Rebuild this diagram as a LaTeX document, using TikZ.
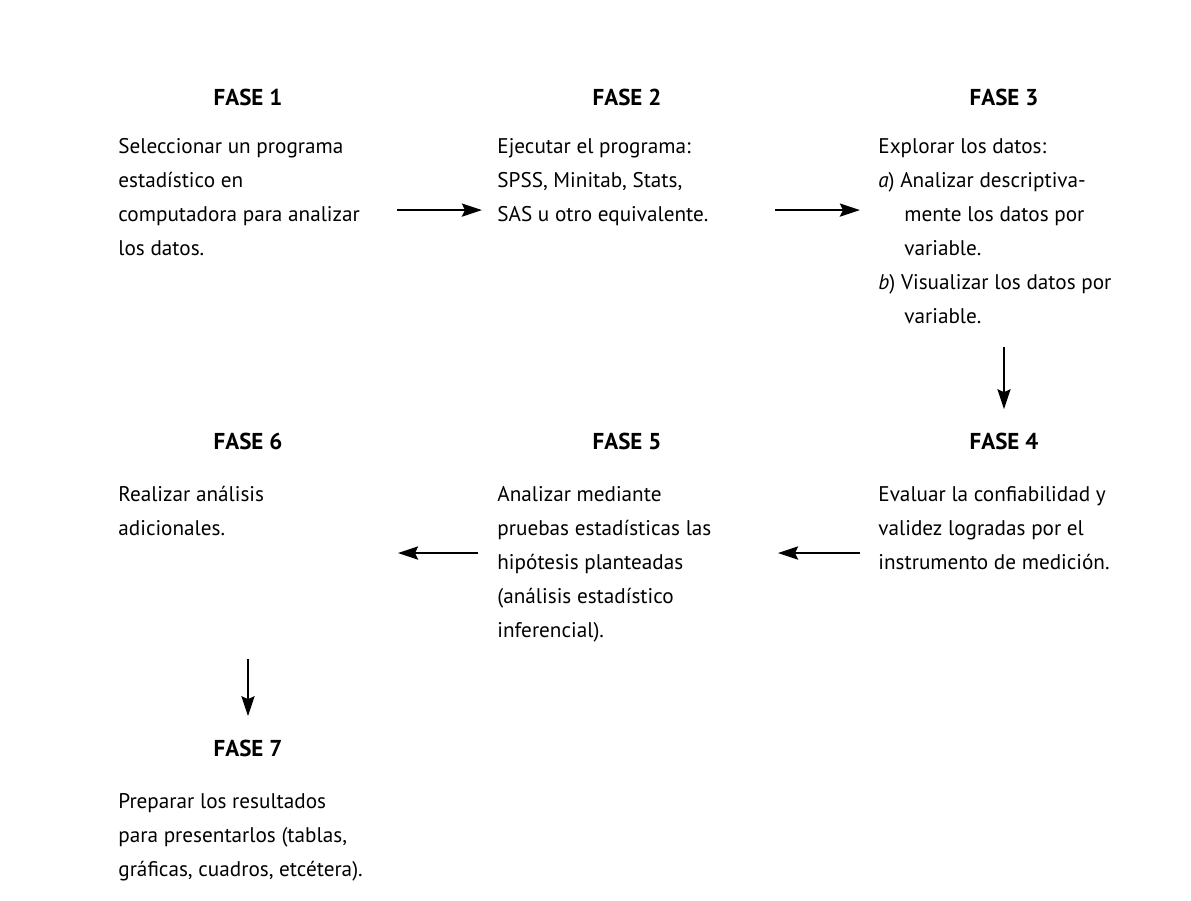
\documentclass[tikz,border=0pt]{standalone}
\usepackage{fontspec}
\setmainfont{PT Sans}
\usetikzlibrary{arrows.meta}
\tikzset{
  fase/.style={font=\bfseries\fontsize{11.5}{12}\selectfont, inner sep=0pt},
  texto/.style={anchor=north west, align=left, inner sep=0pt, font=\fontsize{10.6}{17}\selectfont},
  flecha/.style={-{Stealth[length=10pt,width=6.5pt,inset=1.5pt]}, line width=1.3pt},
}
\begin{document}
\begin{tikzpicture}[x=0.5pt,y=-0.5pt]
    \useasboundingbox (0,0) rectangle (1191,901);

    % headings
    \node[fase] (H1) at (248,97) {FASE 1};
    \node[fase] (H2) at (627,97) {FASE 2};
    \node[fase] (H3) at (1004,97) {FASE 3};
    \node[fase] (H4) at (1004,441) {FASE 4};
    \node[fase] (H5) at (627,441) {FASE 5};
    \node[fase] (H6) at (248,441) {FASE 6};
    \node[fase] (H7) at (248,748) {FASE 7};

    % texts
    \node[texto] (T1) at (118,138) {Seleccionar un programa\\ estadístico en\\ computadora para analizar\\ los datos.};
    \node[texto] (T2) at (497,138) {Ejecutar el programa:\\ SPSS, Minitab, Stats,\\ SAS u otro equivalente.};
    \node[texto] (T3) at (878,138) {Explorar los datos:\\ \textit{a}) Analizar descriptiva-\\ \hspace*{13pt}mente los datos por\\ \hspace*{13pt}variable.\\ \textit{b}) Visualizar los datos por\\ \hspace*{13pt}variable.};
    \node[texto] (T4) at (878,486) {Evaluar la confiabilidad y\\ validez logradas por el\\ instrumento de medición.};
    \node[texto] (T5) at (497,486) {Analizar mediante\\ pruebas estadísticas las\\ hipótesis planteadas\\ (análisis estadístico\\ inferencial).};
    \node[texto] (T6) at (118,486) {Realizar análisis\\ adicionales.};
    \node[texto] (T7) at (118,793) {Preparar los resultados\\ para presentarlos (tablas,\\ gráficas, cuadros, etcétera).};

    % arrows
    \draw[flecha] (T2.west |- T1.east) ++(-100,13) coordinate (p12) -- ++(85,0);
    \draw[flecha] (T3.west |- p12) ++(-103,0) -- ++(85,0);
    \draw[flecha] (H3 |- T3.south) ++(0,23) -- ([yshift=11.5pt]H4.north);
    \draw[flecha] (T4.west) ++(-18,25) coordinate (p45) -- ++(-82,0);
    \draw[flecha] (T5.west |- p45) ++(-19,0) -- ++(-80,0);
    \draw[flecha] (H6 |- T6.south) ++(0,123) -- ([yshift=11.5pt]H7.north);
\end{tikzpicture}
\end{document}
